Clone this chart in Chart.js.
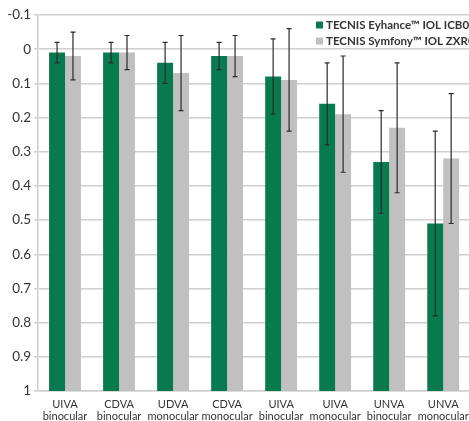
<!DOCTYPE html>
<html>
<head>
<meta charset="utf-8">
<script src="https://cdn.jsdelivr.net/npm/chart.js@4/dist/chart.umd.min.js"></script>
<style>
  html, body { margin: 0; padding: 0; background: #fff; overflow: hidden; }
  #wrap { position: relative; width: 469px; height: 421px; overflow: hidden; }
  canvas { display: block; }
</style>
</head>
<body>
<div id="wrap"><canvas id="c" width="477" height="421"></canvas></div>
<script>
// Visual acuity outcomes (logMAR), mean with SD error bars
const categories = [
  ['UIVA', 'binocular'], ['CDVA', 'binocular'], ['UDVA', 'monocular'], ['CDVA', 'monocular'],
  ['UIVA', 'binocular'], ['UIVA', 'monocular'], ['UNVA', 'binocular'], ['UNVA', 'monocular']
];
const seriesNames = ['TECNIS Eyhance\u2122 IOL ICB00', 'TECNIS Symfony\u2122 IOL ZXR00'];
const eyhanceMean = [0.01, 0.01, 0.04, 0.02, 0.08, 0.16, 0.33, 0.51];
const eyhanceSD   = [0.03, 0.03, 0.06, 0.04, 0.11, 0.12, 0.15, 0.27];
const symfonyMean = [0.02, 0.01, 0.07, 0.02, 0.09, 0.19, 0.23, 0.32];
const symfonySD   = [0.07, 0.05, 0.11, 0.06, 0.15, 0.17, 0.19, 0.19];
const yTickLabels = ['-0.1', '0', '0.1', '0.2', '0.3', '0.4', '0.5', '0.6', '0.7', '0.8', '0.9', '1'];

const GREEN = '#087a4f';
const GREY = '#bfc0bf';
const AXIS_BOTTOM = 1;

const errorBars = {
  id: 'errorBars',
  afterDatasetsDraw(chart) {
    const ctx = chart.ctx;
    const y = chart.scales.y;
    chart.data.datasets.forEach((ds, di) => {
      const meta = chart.getDatasetMeta(di);
      meta.data.forEach((bar, i) => {
        const m = ds.means[i], sd = ds.sd[i];
        const x = bar.x;
        const y1 = y.getPixelForValue(m - sd);
        const y2 = y.getPixelForValue(m + sd);
        ctx.save();
        ctx.strokeStyle = '#2b2b2b';
        ctx.lineWidth = 1.2;
        ctx.beginPath();
        ctx.moveTo(x, y1); ctx.lineTo(x, y2);
        ctx.moveTo(x - 2.5, y1); ctx.lineTo(x + 2.5, y1);
        ctx.moveTo(x - 2.5, y2); ctx.lineTo(x + 2.5, y2);
        ctx.stroke();
        ctx.restore();
      });
    });
  }
};

const legendBox = {
  id: 'legendBox',
  afterDraw(chart) {
    const ctx = chart.ctx;
    const colors = [GREEN, GREY];
    const rows = [25, 41];
    ctx.save();
    ctx.font = 'bold 11.5px Lato, "Open Sans", sans-serif';
    ctx.textBaseline = 'middle';
    seriesNames.forEach((name, i) => {
      ctx.fillStyle = colors[i];
      ctx.fillRect(316, rows[i] - 3.5, 7, 7);
      ctx.fillStyle = '#333';
      ctx.fillText(name, 326, rows[i] + 0.5);
    });
    ctx.restore();
  }
};

new Chart(document.getElementById('c'), {
  type: 'bar',
  data: {
    labels: categories,
    datasets: [
      {
        label: seriesNames[0],
        data: eyhanceMean.map(v => [AXIS_BOTTOM, v]),
        means: eyhanceMean, sd: eyhanceSD,
        backgroundColor: GREEN,
        categoryPercentage: 0.59, barPercentage: 1
      },
      {
        label: seriesNames[1],
        data: symfonyMean.map(v => [AXIS_BOTTOM, v]),
        means: symfonyMean, sd: symfonySD,
        backgroundColor: GREY,
        categoryPercentage: 0.59, barPercentage: 1
      }
    ]
  },
  options: {
    responsive: false,
    animation: false,
    layout: { padding: { top: 15, right: 4, bottom: 0, left: 0 } },
    plugins: { legend: { display: false }, tooltip: { enabled: false } },
    scales: {
      x: {
        grid: { display: false, drawTicks: false },
        border: { display: true, color: '#cfcfcf', width: 1.5 },
        ticks: {
          color: '#333',
          font: { family: 'Lato, "Open Sans", sans-serif', size: 11, lineHeight: 1.05 },
          padding: 8,
          maxRotation: 0, autoSkip: false
        },
        afterFit(s) { s.height = 30; }
      },
      y: {
        reverse: true,
        min: -0.1, max: 1,
        grid: { color: '#cfcfcf', lineWidth: 1.5, tickLength: 4 },
        border: { display: true, color: '#cfcfcf', width: 1.5 },
        ticks: {
          stepSize: 0.1,
          color: '#333',
          font: { family: 'Lato, "Open Sans", sans-serif', size: 13.5 },
          padding: 3,
          callback: (v) => yTickLabels[Math.round(v * 10) + 1]
        },
        afterFit(s) { s.width = 38; }
      }
    }
  },
  plugins: [errorBars, legendBox]
});
</script>
</body>
</html>
